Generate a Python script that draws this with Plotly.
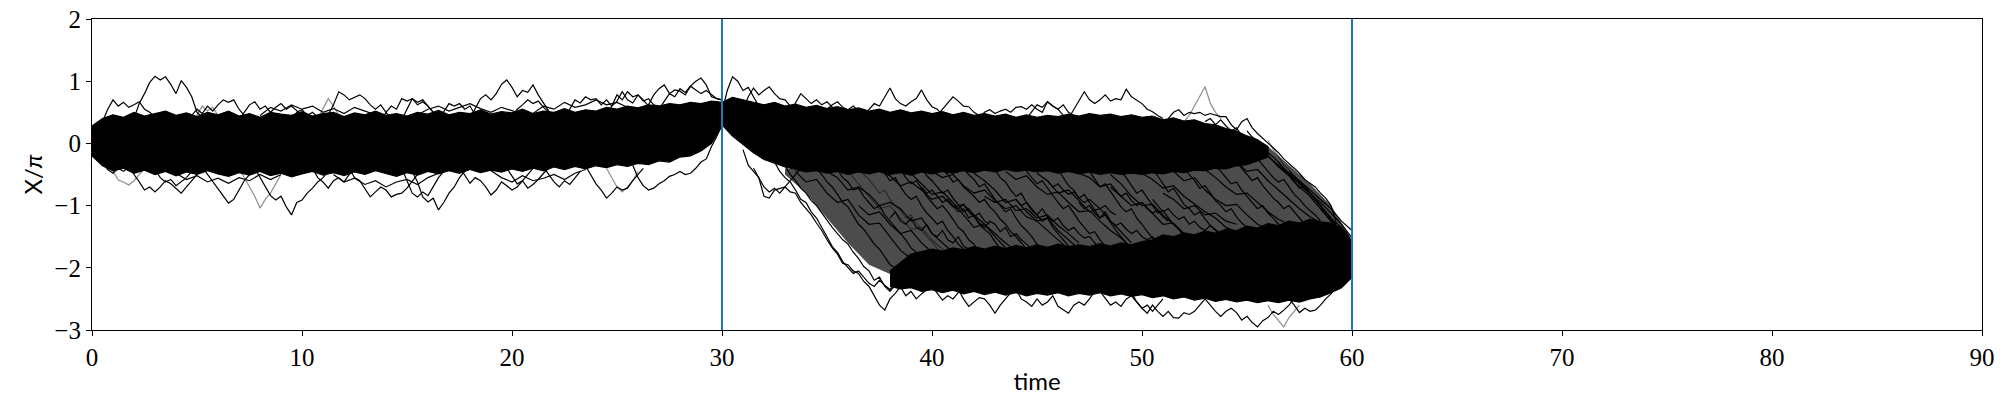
import numpy as np
import plotly.graph_objects as go

# ---------------- axes / annotations ----------------
x_ticks = [0, 10, 20, 30, 40, 50, 60, 70, 80, 90]
y_ticks = [-3, -2, -1, 0, 1, 2]
y_tick_labels = ["\u22123", "\u22122", "\u22121", "0", "1", "2"]
switch_times = [30, 60]
DT = 0.25       # sampling step of the finely read trajectories
DT_COARSE = 0.5  # sampling step of the coarsely read ones and of the envelopes

# ---------------- dense cores (edges, step 0.5) ----------------
core_A_t0 = 0
core_A_upper = [0.28, 0.40, 0.46, 0.42, 0.50, 0.44, 0.48, 0.52, 0.45, 0.49,
                0.43, 0.50, 0.46, 0.52, 0.44, 0.48, 0.42, 0.50, 0.47, 0.45,
                0.51, 0.44, 0.48, 0.50, 0.43, 0.49, 0.46, 0.52, 0.45, 0.48,
                0.44, 0.50, 0.47, 0.53, 0.46, 0.50, 0.48, 0.54, 0.47, 0.51,
                0.49, 0.55, 0.48, 0.52, 0.50, 0.56, 0.50, 0.54, 0.52, 0.58,
                0.55, 0.60, 0.57, 0.62, 0.60, 0.64, 0.62, 0.66, 0.64, 0.68, 0.66]
core_A_lower = [-0.20, -0.36, -0.44, -0.40, -0.48, -0.43, -0.50, -0.45, -0.52, -0.46,
                -0.50, -0.44, -0.49, -0.53, -0.47, -0.51, -0.45, -0.52, -0.48, -0.54,
                -0.49, -0.45, -0.51, -0.47, -0.52, -0.46, -0.50, -0.44, -0.49, -0.53,
                -0.47, -0.51, -0.45, -0.49, -0.44, -0.48, -0.42, -0.47, -0.43, -0.46,
                -0.41, -0.45, -0.40, -0.44, -0.38, -0.42, -0.37, -0.41, -0.36, -0.39,
                -0.34, -0.37, -0.32, -0.34, -0.28, -0.30, -0.22, -0.20, -0.12, 0.00, 0.28]

core_B_t0 = 30
core_B_upper = [0.66, 0.74, 0.70, 0.66, 0.62, 0.66, 0.60, 0.63, 0.58, 0.61,
                0.56, 0.59, 0.54, 0.57, 0.52, 0.55, 0.50, 0.54, 0.49, 0.52,
                0.48, 0.51, 0.46, 0.50, 0.45, 0.48, 0.44, 0.47, 0.42, 0.46,
                0.42, 0.45, 0.43, 0.47, 0.44, 0.48, 0.45, 0.47, 0.43, 0.46,
                0.42, 0.44, 0.38, 0.41, 0.36, 0.38, 0.32, 0.30, 0.24, 0.20,
                0.12, 0.06, -0.05]
core_B_lower = [0.30, 0.12, -0.02, -0.15, -0.26, -0.32, -0.38, -0.42, -0.46, -0.44,
                -0.48, -0.45, -0.50, -0.46, -0.49, -0.45, -0.50, -0.47, -0.51, -0.46,
                -0.49, -0.45, -0.48, -0.44, -0.47, -0.43, -0.46, -0.42, -0.45, -0.43,
                -0.46, -0.44, -0.48, -0.45, -0.49, -0.46, -0.50, -0.47, -0.50, -0.48,
                -0.50, -0.47, -0.49, -0.45, -0.47, -0.43, -0.44, -0.40, -0.41, -0.36,
                -0.34, -0.28, -0.22]

core_C_t0 = 38
core_C_upper = [-2.05, -1.92, -1.78, -1.74, -1.70, -1.73, -1.68, -1.71, -1.66, -1.70,
                -1.65, -1.69, -1.64, -1.68, -1.63, -1.67, -1.62, -1.66, -1.63, -1.66,
                -1.61, -1.65, -1.60, -1.63, -1.58, -1.55, -1.47, -1.50, -1.44, -1.47,
                -1.41, -1.44, -1.38, -1.40, -1.33, -1.36, -1.29, -1.32, -1.25, -1.28,
                -1.22, -1.26, -1.28, -1.36, -1.58]
core_C_lower = [-2.30, -2.34, -2.32, -2.38, -2.35, -2.40, -2.36, -2.42, -2.38, -2.43,
                -2.39, -2.44, -2.40, -2.45, -2.41, -2.44, -2.40, -2.45, -2.41, -2.44,
                -2.40, -2.45, -2.42, -2.46, -2.43, -2.48, -2.45, -2.50, -2.47, -2.52,
                -2.49, -2.54, -2.51, -2.55, -2.52, -2.56, -2.53, -2.56, -2.52, -2.55,
                -2.50, -2.47, -2.40, -2.32, -2.15]

# region crossed by many transition paths (looser mesh between the two branches, step 1)
mesh_t0 = 33
mesh_upper = [-0.40, -0.44, -0.44, -0.44, -0.44, -0.44, -0.44, -0.44, -0.42, -0.42, -0.40, -0.40, -0.42,
              -0.44, -0.44, -0.46, -0.46, -0.46, -0.44, -0.42, -0.40, -0.36, -0.10, -0.05, -0.35, -0.65, -1.00,
              -1.55]
mesh_lower = [-0.50, -0.80, -1.20, -1.60, -1.95, -2.10, -1.90, -1.90, -1.90, -1.90, -1.90, -1.90, -1.90,
              -1.90, -1.90, -1.90, -1.90, -1.90, -1.90, -1.90, -1.90, -1.90, -1.90, -1.90, -1.90, -1.90, -1.90,
              -1.90]

# ---------------- individual trajectories (X/pi) ----------------
# phase 1, upper fringe (step DT)
U1 = [0.00, 0.20, 0.35, 0.55, 0.70, 0.60, 0.66, 0.58, 0.62, 0.67, 0.55, 0.50, 0.42, 0.35]
U2 = [0.40, 0.64, 0.80, 0.98, 1.08, 1.02, 1.07, 0.95, 0.80, 1.01, 0.90, 0.75, 0.50, 0.42, 0.36]
U3 = [0.30, 0.45, 0.55, 0.48, 0.60, 0.52, 0.62, 0.70, 0.66, 0.70, 0.55, 0.45, 0.35]
U4 = [0.35, 0.50, 0.62, 0.67, 0.55, 0.60, 0.50, 0.58, 0.64, 0.55, 0.60, 0.52, 0.45, 0.35]
U5 = [0.35, 0.45, 0.60, 0.52, 0.58, 0.45, 0.35]
U6 = [0.35, 0.50, 0.54, 0.45, 0.50, 0.42, 0.38]
U7 = [0.30, 0.45, 0.62, 0.83, 0.78, 0.70, 0.74, 0.78, 0.72, 0.62, 0.55, 0.62, 0.50, 0.40]
U8 = [0.40, 0.55, 0.72, 0.60, 0.45, 0.40]
U9 = [0.35, 0.50, 0.60, 0.55, 0.72, 0.68, 0.72, 0.62, 0.67, 0.60, 0.50, 0.45, 0.38]
U10 = [0.38, 0.50, 0.64, 0.60, 0.64, 0.55, 0.60, 0.45, 0.38]
U11 = [0.40, 0.55, 0.72, 0.78, 0.70, 0.80, 0.95, 1.02, 0.90, 0.75, 0.85, 0.82, 0.94, 0.78, 0.64, 0.52, 0.42]
U12 = [0.40, 0.55, 0.70, 0.65, 0.75, 0.70, 0.72, 0.62, 0.70, 0.60, 0.68, 0.83, 0.70, 0.65, 0.78, 0.70, 0.60, 0.50]
U13 = [0.50, 0.62, 0.78, 0.88, 0.94, 0.80, 0.86, 0.84, 0.78, 0.92, 1.00, 1.05, 0.94, 0.75, 0.72, 0.70]
U14 = [0.45, 0.60, 0.78, 0.70, 0.83, 0.75, 0.78, 0.68, 0.72, 0.62, 0.60]
U15 = [0.38, 0.55, 0.72, 0.66, 0.70, 0.60, 0.50, 0.45]
U16 = [0.42, 0.55, 0.62, 0.70, 0.64, 0.68, 0.58, 0.50, 0.45]
U17 = [0.55, 0.68, 0.80, 0.75, 0.88, 0.82, 0.92, 0.86, 0.80, 0.85, 0.78, 0.72, 0.70]
# phase 1, lower fringe (step DT)
L1 = [0.00, -0.15, -0.30, -0.42, -0.48, -0.40, -0.45, -0.38]
L2 = [-0.30, -0.45, -0.59, -0.62, -0.67, -0.60, -0.50, -0.40]
L3 = [-0.35, -0.50, -0.62, -0.75, -0.70, -0.78, -0.70, -0.60, -0.65, -0.72, -0.80, -0.70, -0.60, -0.50, -0.40]
L4 = [-0.38, -0.50, -0.60, -0.72, -0.85, -0.96, -0.90, -0.75, -0.60, -0.50, -0.42]
L5 = [-0.40, -0.55, -0.70, -0.85, -1.04, -0.90, -0.80, -0.65, -0.50]
L6 = [-0.40, -0.55, -0.70, -0.84, -0.91, -0.85, -1.02, -1.15, -0.95, -0.91, -0.80, -0.72, -0.62, -0.55, -0.45]
L7 = [-0.40, -0.55, -0.62, -0.72, -0.60, -0.55, -0.62, -0.50, -0.42]
L8 = [-0.40, -0.55, -0.60, -0.72, -0.86, -0.78, -0.70, -0.75, -0.86, -0.82, -0.80, -0.72, -0.60, -0.50, -0.42]
L9 = [-0.45, -0.62, -0.86, -0.94, -0.88, -1.07, -0.95, -0.80, -0.70, -0.55, -0.45]
L10 = [-0.40, -0.60, -0.80, -0.86, -0.78, -0.84, -0.70, -0.55, -0.45]
L11 = [-0.38, -0.50, -0.64, -0.55, -0.60, -0.70, -0.83, -0.75, -0.62, -0.68, -0.75, -0.70, -0.60, -0.50, -0.40]
L12 = [-0.38, -0.50, -0.62, -0.70, -0.60, -0.66, -0.55, -0.45]
L13 = [-0.36, -0.50, -0.65, -0.75, -0.88, -0.80, -0.70, -0.75, -0.72, -0.60, -0.50, -0.40]
L14 = [-0.40, -0.55, -0.70, -0.78, -0.70, -0.60, -0.45]
L15 = [-0.35, -0.55, -0.68, -0.75, -0.72, -0.65, -0.60, -0.53, -0.50, -0.45, -0.50, -0.48, -0.40, -0.30, -0.25,
       -0.05, 0.11, 0.30]
L16 = [-0.40, -0.52, -0.65, -0.60, -0.72, -0.66, -0.58, -0.48, -0.40]
L17 = [-0.42, -0.55, -0.62, -0.58, -0.68, -0.62, -0.55, -0.45]
# phase 1, extra edge wanderers (step DT_COARSE)
P1 = [0.45, 0.58, 0.52, 0.62, 0.55, 0.60, 0.50, 0.56, 0.48, 0.58, 0.52, 0.46]
P2 = [0.46, 0.55, 0.60, 0.52, 0.58, 0.64, 0.56, 0.50, 0.58, 0.53, 0.47]
P3 = [0.48, 0.60, 0.55, 0.66, 0.58, 0.62, 0.70, 0.62, 0.66, 0.58, 0.50]
P4 = [-0.48, -0.58, -0.52, -0.62, -0.56, -0.64, -0.55, -0.60, -0.50, -0.58, -0.50]
P5 = [-0.50, -0.62, -0.56, -0.66, -0.60, -0.70, -0.62, -0.58, -0.66, -0.55, -0.48]
P6 = [-0.44, -0.55, -0.62, -0.52, -0.60, -0.56, -0.50, -0.58, -0.48, -0.42]
# phase 2, upper branch fringe (step DT)
V1 = [0.50, 0.85, 1.07, 1.00, 0.85, 0.90, 0.75, 0.60, 0.50]
V2 = [0.55, 0.75, 0.89, 0.78, 0.85, 0.91, 0.80, 0.72, 0.70, 0.60, 0.50]
V3 = [0.50, 0.65, 0.80, 0.72, 0.64, 0.70, 0.62, 0.67, 0.58, 0.50]
V4 = [0.45, 0.55, 0.64, 0.60, 0.75, 0.89, 0.72, 0.64, 0.60, 0.67, 0.72, 0.86, 0.70, 0.59, 0.55, 0.45]
V5 = [0.45, 0.55, 0.65, 0.75, 0.68, 0.60, 0.59, 0.50, 0.45]
V6 = [0.40, 0.50, 0.54, 0.48, 0.52, 0.55, 0.50, 0.58, 0.59, 0.55, 0.62, 0.55, 0.50, 0.67, 0.60, 0.55, 0.45]
V7 = [0.40, 0.55, 0.68, 0.83, 0.70, 0.64, 0.70, 0.78, 0.68, 0.72, 0.70, 0.87, 0.75, 0.70, 0.64, 0.55, 0.51, 0.45, 0.40]
V8 = [0.35, 0.45, 0.60, 0.75, 0.91, 0.65, 0.50, 0.40]
V9 = [0.40, 0.50, 0.54, 0.45, 0.50, 0.48, 0.50, 0.45, 0.48, 0.45, 0.43, 0.43, 0.30, 0.22, 0.35, 0.40, 0.25, 0.16,
      0.08, 0.00, -0.08, -0.15, -0.25, -0.32, -0.40, -0.48, -0.58, -0.64, -0.70, -0.80, -0.88, -1.00, -1.28, -1.35,
      -1.45, -1.60]
V10 = [0.45, 0.55, 0.62, 0.67, 0.58, 0.54, 0.60, 0.52, 0.45]
V11 = [0.40, 0.52, 0.62, 0.58, 0.67, 0.60, 0.55, 0.62, 0.50, 0.45]
V12 = [0.35, 0.40, 0.30, 0.38, 0.28, 0.20, 0.25, 0.12, 0.05, 0.10, -0.05, -0.12, -0.20, -0.28, -0.35, -0.45, -0.52,
       -0.62, -0.70, -0.78, -0.85, -0.95, -1.05, -1.15, -1.25, -1.35, -1.42, -1.50, -1.62]
V13 = [0.05, -0.10, -0.20, -0.35, -0.42, -0.55, -0.65, -0.75, -0.82, -0.91, -1.00, -1.10, -1.25, -1.40, -1.50,
       -1.55, -1.62]
# phase 2, transitions from the upper to the lower branch (step DT)
E1 = [-0.40, -0.55, -0.70, -0.78, -0.72, -0.80, -0.70, -0.60, -0.50, -0.40]
T1 = [-0.10, -0.35, -0.45, -0.55, -0.85, -0.88, -0.75, -0.72, -0.70, -0.78, -0.80, -0.95, -1.05, -1.15, -1.28,
      -1.40, -1.55, -1.68, -1.78, -1.93, -1.95, -2.05, -2.09, -2.22, -2.30, -2.45, -2.60, -2.68, -2.50, -2.41,
      -2.30, -2.20]
T2 = [-0.30, -0.45, -0.55, -0.62, -0.75, -0.90, -0.95, -1.10, -1.20, -1.34, -1.50, -1.66, -1.75, -1.90, -2.00,
      -2.09, -2.05, -2.15, -2.25, -2.30, -2.20, -2.28, -2.35, -2.25, -2.15]
T3 = [-0.35, -0.50, -0.60, -0.72, -0.80, -0.92, -1.00, -1.12, -1.25, -1.35, -1.45, -1.55, -1.62, -1.75, -1.85,
      -1.98, -2.05, -2.20, -2.15, -2.30, -2.38, -2.28, -2.20, -2.25]
T4 = [-0.40, -0.50, -0.62, -0.70, -0.82, -0.95, -1.02, -1.15, -1.30, -1.38, -1.50, -1.62, -1.70, -1.82, -1.95,
      -2.00, -2.10, -2.05, -2.18, -2.20]
T5 = [-0.42, -0.55, -0.62, -0.75, -0.72, -0.85, -0.95, -1.05, -1.00, -1.15, -1.25, -1.35, -1.45, -1.55, -1.68,
      -1.75, -1.85, -1.95, -2.05, -2.00]
T6 = [-0.40, -0.50, -0.58, -0.70, -0.80, -0.75, -0.90, -1.00, -1.08, -1.20, -1.15, -1.28, -1.40, -1.50, -1.58,
      -1.70, -1.80, -1.90, -2.00]
T7 = [-0.40, -0.48, -0.60, -0.55, -0.70, -0.82, -0.90, -0.85, -1.00, -1.12, -1.20, -1.30, -1.25, -1.40, -1.50,
      -1.62, -1.70, -1.82, -1.90]
T8 = [-0.42, -0.55, -0.65, -0.60, -0.72, -0.85, -0.95, -1.05, -1.00, -1.10, -1.22, -1.35, -1.42, -1.55, -1.62,
      -1.75, -1.85]
T9 = [-0.40, -0.52, -0.60, -0.70, -0.80, -0.75, -0.88, -0.98, -1.10, -1.05, -1.18, -1.30, -1.38, -1.45, -1.58,
      -1.70, -1.80, -1.90]
T10 = [-0.42, -0.50, -0.62, -0.58, -0.70, -0.78, -0.85, -0.95, -0.90, -1.02, -1.10, -1.22, -1.30, -1.42, -1.50,
       -1.60, -1.70, -1.82, -1.90]
T11 = [-0.40, -0.50, -0.58, -0.70, -0.65, -0.78, -0.90, -1.00, -1.10, -1.05, -1.20, -1.32, -1.40, -1.50, -1.62,
       -1.70, -1.78, -1.90]
T12 = [-0.42, -0.55, -0.62, -0.75, -0.85, -0.80, -0.95, -1.05, -1.15, -1.25, -1.20, -1.35, -1.45, -1.55, -1.65,
       -1.75, -1.85]
T13 = [-0.45, -0.55, -0.65, -0.60, -0.72, -0.85, -0.95, -1.05, -1.00, -1.12, -1.25, -1.35, -1.45, -1.42, -1.55,
       -1.65, -1.78, -1.88]
T14 = [-0.42, -0.55, -0.68, -0.75, -0.88, -0.82, -0.95, -1.08, -1.20, -1.15, -1.28, -1.40, -1.50, -1.60, -1.72,
       -1.82]
T15 = [-0.45, -0.58, -0.70, -0.65, -0.78, -0.90, -1.02, -1.10, -1.05, -1.20, -1.30, -1.42, -1.52, -1.60, -1.70,
       -1.80]
T16 = [-0.45, -0.55, -0.68, -0.80, -0.75, -0.88, -1.00, -1.12, -1.08, -1.20, -1.30, -1.38, -1.50, -1.55, -1.65,
       -1.75]
T17 = [-0.42, -0.52, -0.65, -0.78, -0.72, -0.85, -0.98, -1.05, -1.15, -1.10, -1.22, -1.32, -1.40, -1.50, -1.60]
T18 = [-0.40, -0.50, -0.60, -0.72, -0.68, -0.80, -0.92, -1.00, -1.10, -1.05, -1.18, -1.28, -1.35, -1.45, -1.50]
T19 = [-0.35, -0.45, -0.55, -0.65, -0.62, -0.75, -0.85, -0.95, -1.05, -1.00, -1.12, -1.20, -1.30, -1.38]
T20 = [-0.30, -0.40, -0.50, -0.60, -0.55, -0.68, -0.78, -0.88, -0.95, -1.05, -1.00, -1.10, -1.20, -1.30]
T21 = [-0.25, -0.35, -0.45, -0.55, -0.62, -0.58, -0.70, -0.82, -0.90, -1.00, -1.08, -1.15, -1.25]
T22 = [-0.30, -0.42, -0.50, -0.62, -0.72, -0.68, -0.80, -0.90, -1.00, -1.10, -1.20, -1.30]
T23 = [-0.60, -0.72, -0.80, -0.90, -1.00, -1.12, -1.20, -1.35, -1.45, -1.55]
T24 = [0.20, 0.10, 0.05, -0.05, -0.15, -0.22, -0.30, -0.40, -0.48, -0.55, -0.62, -0.72, -0.80, -0.90, -1.00, -1.15,
       -1.25, -1.35, -1.45, -1.50, -1.60]
# phase 2, trajectories lingering between the branches (step DT)
M1 = [-1.20, -1.10, -1.25, -1.30, -1.20, -1.35, -1.40, -1.30, -1.45, -1.50, -1.40, -1.55, -1.60, -1.50, -1.65, -1.70]
M2 = [-1.00, -1.10, -1.05, -1.20, -1.15, -1.28, -1.35, -1.25, -1.30, -1.42, -1.35, -1.50, -1.45, -1.55, -1.62, -1.70]
M3 = [-0.90, -1.00, -0.95, -1.08, -1.15, -1.05, -1.18, -1.25, -1.20, -1.32, -1.40, -1.35, -1.45, -1.52, -1.50, -1.60,
      -1.68]
M4 = [-0.95, -1.05, -1.00, -1.12, -1.20, -1.10, -1.25, -1.32, -1.28, -1.38, -1.45, -1.40, -1.50, -1.55, -1.50, -1.60]
M5 = [-0.90, -1.00, -1.10, -1.05, -1.15, -1.22, -1.18, -1.30, -1.25, -1.35, -1.40, -1.32, -1.38, -1.45]
M6 = [-0.60, -0.70, -0.65, -0.75, -0.82, -0.78, -0.88, -0.95, -0.90, -0.98, -1.05, -1.00, -1.10, -1.15]
M7 = [-0.70, -0.80, -0.75, -0.85, -0.95, -0.90, -1.00, -1.05, -0.98, -1.10, -1.18, -1.12, -1.25, -1.30]
M8 = [-0.70, -0.78, -0.85, -0.80, -0.92, -1.00, -0.95, -1.05, -1.12, -1.08, -1.18, -1.25]
# phase 2, more transitions (step DT_COARSE)
N1 = [-0.45, -0.62, -0.58, -0.80, -0.95, -0.90, -1.15, -1.30, -1.28, -1.50, -1.72, -1.85, -2.00, -2.15]
N2 = [-0.45, -0.55, -0.75, -0.70, -0.82, -1.00, -0.95, -1.05, -1.25, -1.20, -1.45, -1.60, -1.75]
N3 = [-0.45, -0.65, -0.85, -1.05, -1.00, -1.20, -1.38, -1.35, -1.55, -1.70, -1.85]
N4 = [-0.45, -0.52, -0.68, -0.62, -0.75, -0.90, -0.85, -1.02, -0.98, -1.15, -1.30, -1.45, -1.60, -1.72]
N5 = [-0.48, -0.65, -0.82, -0.78, -0.95, -1.15, -1.35, -1.30, -1.50, -1.68]
N6 = [-0.45, -0.55, -0.50, -0.68, -0.80, -0.75, -0.92, -1.05, -1.00, -1.18, -1.25, -1.40, -1.55, -1.70]
N7 = [-0.48, -0.60, -0.75, -0.95, -0.90, -1.10, -1.25, -1.20, -1.40, -1.55, -1.70]
N8 = [-0.45, -0.58, -0.52, -0.70, -0.82, -0.78, -0.95, -1.10, -1.08, -1.25, -1.40, -1.52, -1.68]
N9 = [-0.48, -0.60, -0.80, -0.75, -0.92, -1.10, -1.05, -1.25, -1.42, -1.60]
N10 = [-0.48, -0.55, -0.70, -0.65, -0.85, -1.00, -0.95, -1.12, -1.30, -1.28, -1.45, -1.60]
N11 = [-0.50, -0.65, -0.85, -1.00, -0.98, -1.15, -1.30, -1.45, -1.50]
N12 = [-0.48, -0.58, -0.72, -0.68, -0.85, -0.98, -1.10, -1.20, -1.35, -1.42]
N13 = [-0.45, -0.60, -0.55, -0.75, -0.90, -1.00, -0.98, -1.15, -1.30, -1.38]
N14 = [-0.42, -0.55, -0.70, -0.82, -0.80, -0.95, -1.10, -1.22, -1.30]
N15 = [-0.30, -0.45, -0.42, -0.60, -0.75, -0.90, -1.05, -1.18, -1.28]
N16 = [-0.20, -0.38, -0.50, -0.65, -0.80, -0.95, -1.12, -1.30, -1.52]
N17 = [-0.45, -0.60, -0.75, -0.90, -1.05, -1.25, -1.40]
N18 = [-1.00, -1.15, -1.10, -1.30, -1.45, -1.40, -1.60, -1.75]
N19 = [-0.85, -0.95, -0.90, -1.08, -1.05, -1.20, -1.15, -1.32, -1.45, -1.60]
N20 = [-0.80, -0.90, -1.05, -1.00, -1.15, -1.12, -1.25, -1.30]
# phase 2, lower branch fringe (step DT)
W2 = [-2.30, -2.45, -2.38, -2.50, -2.42, -2.35]
W3 = [-2.30, -2.42, -2.52, -2.45, -2.50, -2.40, -2.35]
W4 = [-2.35, -2.50, -2.62, -2.55, -2.48, -2.50, -2.60, -2.73, -2.60, -2.50, -2.40]
W5 = [-2.35, -2.50, -2.55, -2.62, -2.50, -2.60, -2.55, -2.45, -2.62, -2.68, -2.73, -2.60, -2.55, -2.60, -2.50, -2.38]
W6 = [-2.38, -2.50, -2.60, -2.55, -2.62, -2.50, -2.45, -2.55, -2.65, -2.73, -2.60, -2.70, -2.78, -2.70, -2.80, -2.81,
      -2.72, -2.75, -2.70, -2.60, -2.50]
W7 = [-2.50, -2.60, -2.70, -2.78, -2.70, -2.65, -2.72, -2.84, -2.78, -2.88, -2.95, -2.85, -2.80, -2.70, -2.75, -2.68,
      -2.60, -2.50]
W8 = [-2.60, -2.75, -2.85, -2.95, -2.80, -2.70, -2.60]
W9 = [-2.50, -2.60, -2.72, -2.65, -2.70, -2.68, -2.60, -2.50, -2.42, -2.30, -2.20]
W10 = [-2.40, -2.55, -2.65, -2.60, -2.70, -2.60, -2.50]

# (start time, step, values, shade)
trajectories = [
    (0.0, DT, U1, "k"), (2.0, DT, U2, "k"), (4.5, DT, U3, "k"), (7.0, DT, U4, "k"), (4.75, DT, U5, "g"),
    (9.5, DT, U6, "k"), (11.0, DT, U7, "k"), (10.75, DT, U8, "g"), (13.75, DT, U9, "k"), (16.5, DT, U10, "k"),
    (18.0, DT, U11, "k"), (22.5, DT, U12, "k"), (26.25, DT, U13, "k"), (24.5, DT, U14, "k"), (14.75, DT, U15, "k"),
    (20.0, DT, U16, "k"), (27.0, DT, U17, "k"),
    (0.0, DT, L1, "k"), (0.75, DT, L2, "g"), (1.75, DT, L3, "k"), (5.25, DT, L4, "k"), (7.0, DT, L5, "g"),
    (7.75, DT, L6, "k"), (10.5, DT, L7, "k"), (12.25, DT, L8, "k"), (15.25, DT, L9, "k"), (14.75, DT, L10, "k"),
    (17.5, DT, L11, "k"), (21.5, DT, L12, "k"), (23.5, DT, L13, "k"), (24.5, DT, L14, "g"), (25.75, DT, L15, "k"),
    (19.75, DT, L16, "k"), (3.0, DT, L17, "k"),
    (8.0, DT_COARSE, P1, "k"), (15.5, DT_COARSE, P2, "k"), (21.0, DT_COARSE, P3, "k"),
    (4.0, DT_COARSE, P4, "k"), (11.5, DT_COARSE, P5, "k"), (19.0, DT_COARSE, P6, "k"),
    (30.0, DT, V1, "k"), (31.0, DT, V2, "k"), (33.25, DT, V3, "k"), (36.75, DT, V4, "k"), (40.25, DT, V5, "k"),
    (42.25, DT, V6, "k"), (46.5, DT, V7, "k"), (52.0, DT, V8, "g"), (51.25, DT, V9, "k"), (34.75, DT, V10, "k"),
    (44.5, DT, V11, "k"), (53.0, DT, V12, "k"), (56.0, DT, V13, "g"),
    (31.5, DT, E1, "k"), (31.0, DT, T1, "k"), (32.5, DT, T2, "k"), (33.0, DT, T3, "k"), (34.5, DT, T4, "k"),
    (35.5, DT, T5, "k"), (36.5, DT, T6, "g"), (37.5, DT, T7, "k"), (38.5, DT, T8, "k"), (39.5, DT, T9, "k"),
    (40.5, DT, T10, "k"), (41.5, DT, T11, "k"), (43.0, DT, T12, "k"), (44.5, DT, T13, "k"), (46.0, DT, T14, "k"),
    (47.5, DT, T15, "k"), (49.0, DT, T16, "k"), (50.5, DT, T17, "k"), (52.0, DT, T18, "k"), (53.5, DT, T19, "k"),
    (54.5, DT, T20, "k"), (55.5, DT, T21, "k"), (56.5, DT, T22, "k"), (57.5, DT, T23, "k"), (55.0, DT, T24, "k"),
    (38.0, DT, M1, "k"), (41.0, DT, M2, "k"), (44.0, DT, M3, "k"), (47.0, DT, M4, "k"), (50.5, DT, M5, "k"),
    (45.5, DT, M6, "k"), (39.5, DT, M7, "k"), (48.5, DT, M8, "k"),
    (33.5, DT_COARSE, N1, "k"), (35.0, DT_COARSE, N2, "k"), (36.0, DT_COARSE, N3, "g"), (37.5, DT_COARSE, N4, "k"),
    (39.0, DT_COARSE, N5, "k"), (40.0, DT_COARSE, N6, "k"), (42.0, DT_COARSE, N7, "k"), (43.5, DT_COARSE, N8, "k"),
    (45.0, DT_COARSE, N9, "k"), (47.0, DT_COARSE, N10, "k"), (48.5, DT_COARSE, N11, "k"),
    (50.0, DT_COARSE, N12, "k"), (51.5, DT_COARSE, N13, "k"), (53.0, DT_COARSE, N14, "k"),
    (54.5, DT_COARSE, N15, "k"), (56.0, DT_COARSE, N16, "k"), (57.0, DT_COARSE, N17, "k"),
    (36.5, DT_COARSE, N18, "k"), (42.5, DT_COARSE, N19, "k"), (51.0, DT_COARSE, N20, "k"),
    (38.5, DT, W2, "k"), (40.0, DT, W3, "k"), (41.25, DT, W4, "k"), (44.0, DT, W5, "k"), (48.0, DT, W6, "k"),
    (53.0, DT, W7, "k"), (56.0, DT, W8, "g"), (57.0, DT, W9, "k"), (49.5, DT, W10, "k"),
]

shade_colors = {"k": "black", "g": "rgba(0,0,0,0.45)"}

fig = go.Figure()


def band_xy(t0, step, up, lo):
    t = list(t0 + step * np.arange(len(up)))
    return t + t[::-1], list(up) + list(lo)[::-1]


# looser mesh between branches
mx, my = band_xy(mesh_t0, 1.0, mesh_upper, mesh_lower)
fig.add_trace(go.Scatter(x=mx, y=my, mode="lines", fill="toself", fillcolor="rgba(0,0,0,0.7)",
                         line=dict(width=0, color="rgba(0,0,0,0)"), hoverinfo="skip"))

# solid cores
for t0, up, lo in [(core_A_t0, core_A_upper, core_A_lower),
                   (core_B_t0, core_B_upper, core_B_lower),
                   (core_C_t0, core_C_upper, core_C_lower)]:
    bx, by = band_xy(t0, DT_COARSE, up, lo)
    fig.add_trace(go.Scatter(x=bx, y=by, mode="lines", fill="toself", fillcolor="black",
                             line=dict(color="black", width=1.2), hoverinfo="skip"))

# individual trajectories
for t0, step, vals, shade in trajectories:
    t = t0 + step * np.arange(len(vals))
    fig.add_trace(go.Scatter(x=t, y=vals, mode="lines",
                             line=dict(color=shade_colors[shade], width=1.2), hoverinfo="skip"))

# switching times
for ts in switch_times:
    fig.add_shape(type="line", xref="x", yref="paper", x0=ts, x1=ts, y0=0, y1=1,
                  line=dict(color="#1f77b4", width=2), layer="above")

tick_font = dict(family="Liberation Serif, DejaVu Serif, serif", size=25, color="black")
title_font = dict(family="Lato, Open Sans, sans-serif", size=24, color="black")

fig.update_layout(
    width=2000, height=409,
    margin=dict(l=92, r=18, t=19, b=79),
    plot_bgcolor="white", paper_bgcolor="white",
    showlegend=False,
)
fig.update_xaxes(range=[0, 90], tickvals=x_ticks, ticktext=[str(v) for v in x_ticks],
                 ticks="outside", ticklen=5, tickwidth=1, tickcolor="black",
                 showline=True, linecolor="black", linewidth=1.2, mirror=True,
                 showgrid=False, zeroline=False, tickfont=tick_font, ticklabeloverflow="allow",
                 title=dict(text="time", font=title_font, standoff=3), automargin=False)
fig.update_yaxes(range=[-3, 2], tickvals=y_ticks, ticktext=y_tick_labels,
                 ticks="outside", ticklen=5, tickwidth=1, tickcolor="black",
                 showline=True, linecolor="black", linewidth=1.2, mirror=True,
                 showgrid=False, zeroline=False, tickfont=tick_font, ticklabeloverflow="allow",
                 title=dict(text="X/<i>\u03c0</i>", font=title_font, standoff=4), automargin=False)

# the page's default 8px body margin would shift the 2000x409 figure; remove it
fig.write_html("out.html", config={"displayModeBar": False},
               post_script="document.body.style.margin='0';")
